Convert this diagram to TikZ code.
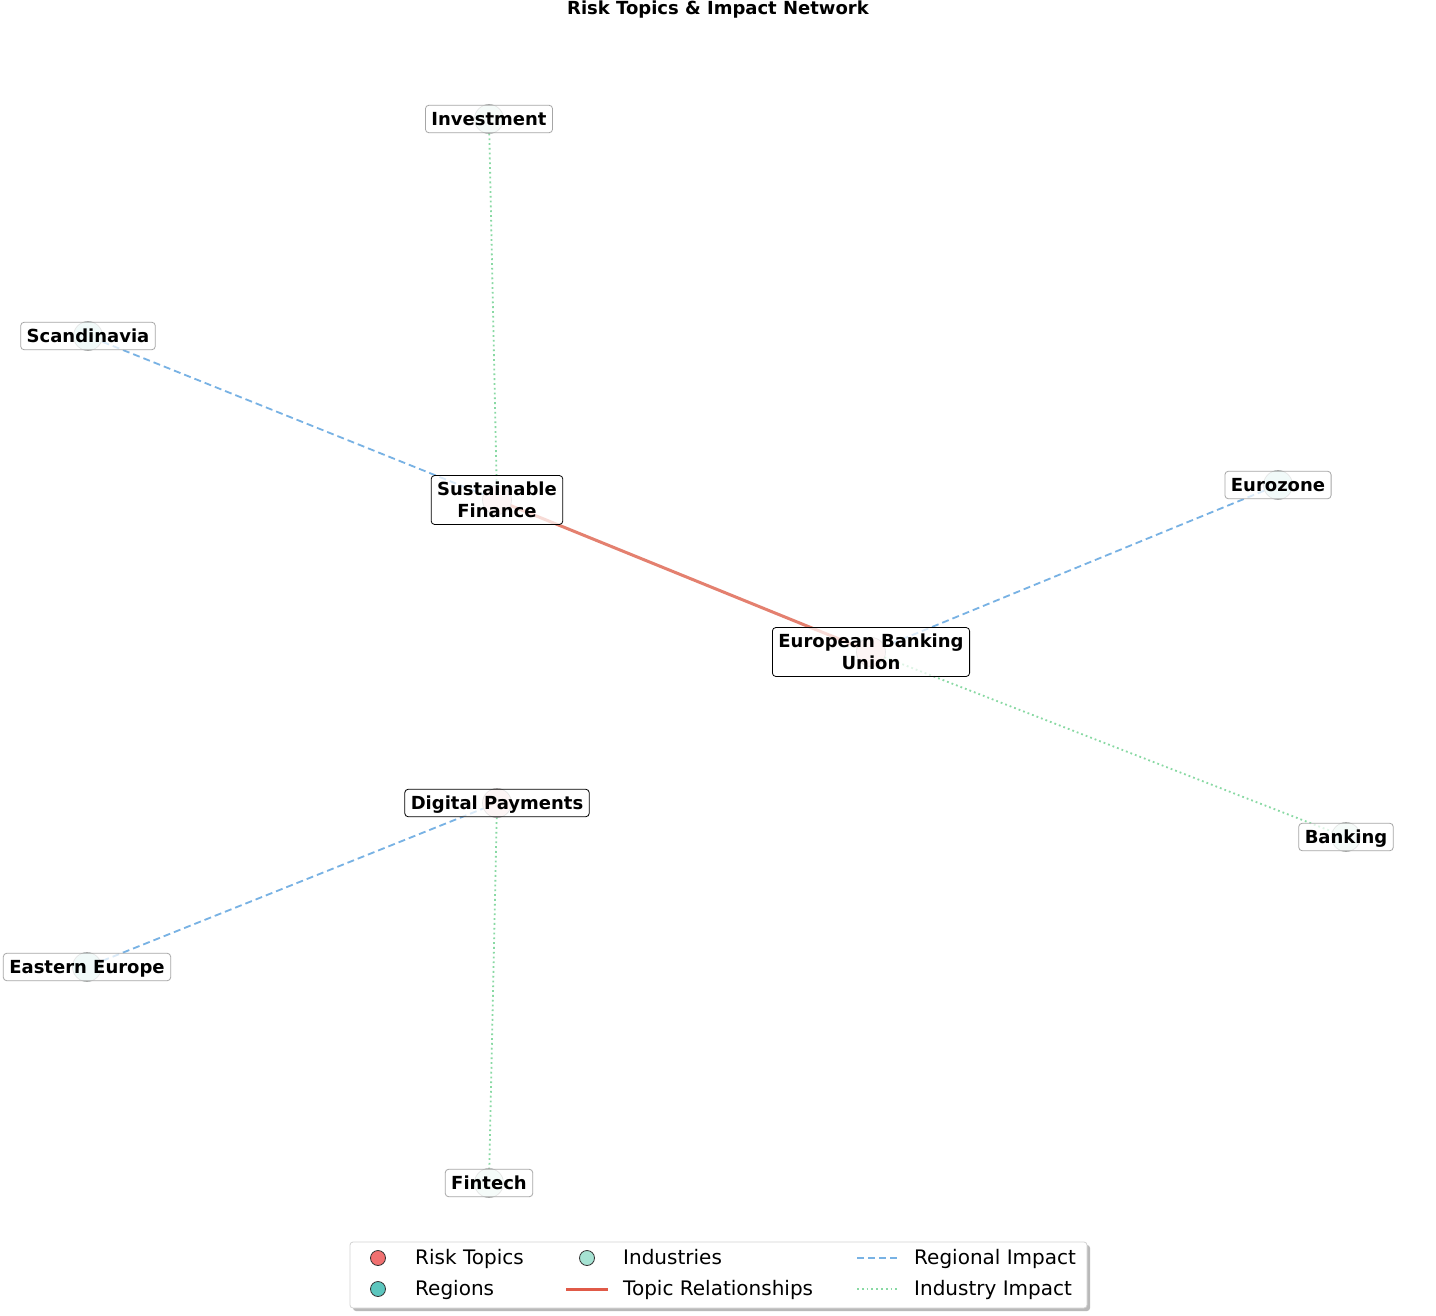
\documentclass[tikz,border=0pt]{standalone}
\usepackage{fontspec}
\setmainfont{DejaVu Sans}
\definecolor{topicC}{HTML}{FBDDDD}
\definecolor{regionC}{HTML}{CDEFEC}
\definecolor{industryC}{HTML}{DCF3EA}
\definecolor{redE}{HTML}{E4806F}
\definecolor{blueE}{HTML}{78B2E4}
\definecolor{greenE}{HTML}{88D9A3}
\definecolor{legRed}{HTML}{F07070}
\definecolor{legTeal}{HTML}{5CC6BE}
\definecolor{legMint}{HTML}{A6E3D3}
\definecolor{legLineRed}{HTML}{E05A48}
\newcommand\lstrut{\rule[-2.5pt]{0pt}{17.5pt}}
\begin{document}
\begin{tikzpicture}[x=1pt,y=-1pt,
  lbl/.style={draw=gray!70, rounded corners=3.5pt, fill=white, fill opacity=0.72, text opacity=1,
    font=\fontsize{18}{21.5}\selectfont\bfseries, inner xsep=6pt, inner ysep=5pt, align=center,
    line width=0.8pt},
  onelbl/.style={lbl, text height=15pt, text depth=2.5pt},
  toplbl/.style={lbl, draw=black},
  dot/.style={circle, minimum size=29pt, inner sep=0pt, draw=gray!70, line width=0.7pt},
  topicdot/.style={dot, fill=topicC},
  regiondot/.style={dot, fill=regionC},
  industrydot/.style={dot, fill=industryC},
  topicedge/.style={draw=redE, line width=3pt},
  regionedge/.style={draw=blueE, line width=1.8pt, dash pattern=on 7pt off 4pt},
  industryedge/.style={draw=greenE, line width=1.8pt, dash pattern=on 1.8pt off 3pt},
  legtxt/.style={anchor=west, font=\fontsize{20}{24}\selectfont, inner sep=0pt, text height=16pt, text depth=2.5pt},
  legdot/.style={circle, minimum size=15pt, inner sep=0pt, draw=black!80, line width=0.8pt}
]
\useasboundingbox (0,0) rectangle (1436,1316);
\fill[white] (0,0) rectangle (1436,1316);

% title
\node[font=\fontsize{18}{20}\selectfont\bfseries] (title) at (718,10) {Risk Topics \& Impact Network};

% node positions (circles drawn after the edges)
\coordinate (inv) at (489,119);
\coordinate (sca) at (88,336);
\coordinate (sf) at (497,500);
\coordinate (eur) at (1278,485);
\coordinate (ebu) at (871,652);
\coordinate (bank) at (1346,837);
\coordinate (dp) at (497,803);
\coordinate (ee) at (87,967);
\coordinate (fin) at (489,1183);

% edges
\path[topicedge] (sf) -- (ebu);
\path[regionedge] (sf) -- (sca);
\path[industryedge] (sf) -- (inv);
\path[regionedge] (ebu) -- (eur);
\path[industryedge] (ebu) -- (bank);
\path[regionedge] (dp) -- (ee);
\path[industryedge] (dp) -- (fin);

% circles
\node[industrydot] (cinv) at (inv) {};
\node[regiondot] (csca) at (sca) {};
\node[topicdot] (csf) at (sf) {};
\node[regiondot] (ceur) at (eur) {};
\node[topicdot] (cebu) at (ebu) {};
\node[industrydot] (cbank) at (bank) {};
\node[topicdot] (cdp) at (dp) {};
\node[regiondot] (cee) at (ee) {};
\node[industrydot] (cfin) at (fin) {};

% labels
\node[onelbl] (linv) at (inv) {Investment};
\node[onelbl] (lsca) at (sca) {Scandinavia};
\node[toplbl] (lsf) at (sf) {\lstrut Sustainable\\\lstrut Finance};
\node[onelbl] (leur) at (eur) {Eurozone};
\node[toplbl] (lebu) at (ebu) {\lstrut European Banking\\\lstrut Union};
\node[onelbl] (lbank) at (bank) {Banking};
\node[onelbl, draw=black] (ldp) at (dp) {Digital Payments};
\node[onelbl] (lee) at (ee) {Eastern Europe};
\node[onelbl] (lfin) at (fin) {Fintech};

% legend
\fill[gray!55, rounded corners=3pt] (353,1245) rectangle (1090,1311);
\draw[gray!35, fill=white, rounded corners=3pt, line width=0.8pt] (350,1242) rectangle (1087,1308);
\node[legdot, fill=legRed] (m1) at (378,1258) {};
\node[legtxt] (t1) at (415,1258) {Risk Topics};
\node[legdot, fill=legTeal] (m2) at (378,1289) {};
\node[legtxt] (t2) at (415,1289) {Regions};
\node[legdot, fill=legMint] (m3) at (587,1258) {};
\node[legtxt] (t3) at (623,1258) {Industries};
\coordinate (r1) at (566,1289);
\coordinate (r2) at (608,1289);
\draw[draw=legLineRed, line width=3pt] (r1) -- (r2);
\node[legtxt] (t4) at (623,1289) {Topic Relationships};
\coordinate (b1) at (857,1258);
\coordinate (b2) at (898,1258);
\draw[regionedge] (b1) -- (b2);
\node[legtxt] (t5) at (914,1258) {Regional Impact};
\coordinate (g1) at (857,1289);
\coordinate (g2) at (898,1289);
\draw[industryedge] (g1) -- (g2);
\node[legtxt] (t6) at (914,1289) {Industry Impact};
\end{tikzpicture}
\end{document}
